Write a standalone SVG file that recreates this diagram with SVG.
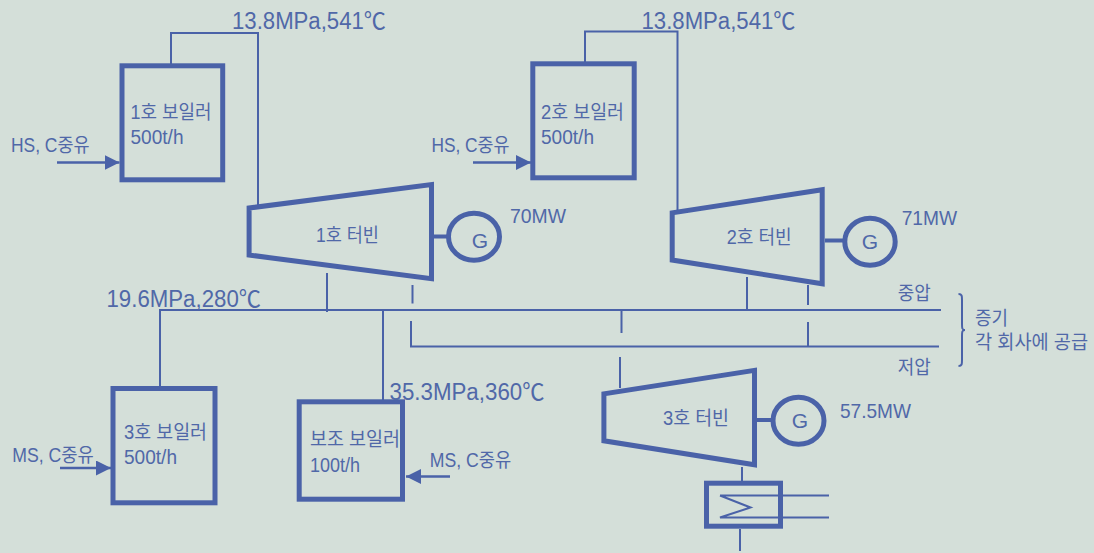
<svg xmlns="http://www.w3.org/2000/svg" width="1094" height="553" viewBox="0 0 1094 553">
<style>
text{font-family:"Liberation Sans","Noto Sans CJK KR",sans-serif;fill:#5068a8}
.p{font-size:23px}.l{font-size:19.500px}.m{font-size:21px}.g{font-size:21px;text-anchor:middle}
.k{fill:none;stroke:#4a62a8;stroke-width:5;stroke-miterlimit:10}
.c{fill:none;stroke:#4a62a8;stroke-width:2}
.a{fill:none;stroke:#4a62a8;stroke-width:2.4}
</style>
<defs><marker id="ah" markerUnits="userSpaceOnUse" markerWidth="15" markerHeight="15" refX="15" refY="7.5" orient="auto"><path d="M0 0L15 7.5L0 15Z" fill="#4a62a8"/></marker></defs>
<rect width="1094" height="553" fill="#d4dfd9"/>
<g id="connectors">
<path class="c" d="M171 64V33H258V206"/>
<path class="c" d="M585 62V31.500H677.500V214"/>
<path class="c" d="M160 386V310H941"/>
<path class="c" d="M383 310V400"/>
<path class="c" d="M410 346.500H939"/>
<path class="c" d="M327 273V312M412.500 285V303.500M411 321V347"/>
<path class="c" d="M621.500 310V333M620 357V388"/>
<path class="c" d="M747 277V310M808 285V305M808 322V346"/>
<path class="c" d="M742 467V481M740 529V551"/>
<path class="c" d="M720 495.500H829M720 495.500L750.500 507.500L720 517.500H829"/>
<path class="a" d="M57 162.500H119.500" marker-end="url(#ah)"/>
<path class="a" d="M473 162.500H531" marker-end="url(#ah)"/>
<path class="a" d="M60 468H111" marker-end="url(#ah)"/>
<path class="a" d="M450 476.500H406" marker-end="url(#ah)"/>
<path class="k" d="M434 236.500H448M825 240.500H844M757 420H773" style="stroke-width:4"/>
<path class="c" d="M958.500 294C962 294 962 296 962 300V324C962 328 962 330 965 330C962 330 962 332 962 336V360C962 364 962 366 958.500 366"/>
</g>
<g id="boiler1"><rect class="k" x="122" y="65.800" width="100.700" height="114"/><text class="l" lengthAdjust="spacingAndGlyphs" x="130.500" y="118.500" textLength="81">1호 보일러</text><text class="l" lengthAdjust="spacingAndGlyphs" x="130.500" y="144" textLength="53">500t/h</text></g>
<g id="boiler2"><rect class="k" x="532.800" y="63.800" width="101.400" height="114"/><text class="l" lengthAdjust="spacingAndGlyphs" x="541" y="118.500" textLength="83">2호 보일러</text><text class="l" lengthAdjust="spacingAndGlyphs" x="541" y="144" textLength="53">500t/h</text></g>
<g id="boiler3"><rect class="k" x="113" y="388.500" width="102" height="114.300"/><text class="l" lengthAdjust="spacingAndGlyphs" x="124" y="439" textLength="83">3호 보일러</text><text class="l" lengthAdjust="spacingAndGlyphs" x="124" y="464" textLength="53">500t/h</text></g>
<g id="boiler-aux"><rect class="k" x="299.200" y="401.800" width="103.300" height="97.400"/><text class="l" lengthAdjust="spacingAndGlyphs" x="310" y="446" textLength="90">보조 보일러</text><text class="l" lengthAdjust="spacingAndGlyphs" x="310" y="471.500" textLength="50">100t/h</text></g>
<g id="turbine1"><path class="k" d="M249.100 208V255L431.500 278.700V184.600Z"/><text class="l" lengthAdjust="spacingAndGlyphs" x="316" y="241.500" textLength="63">1호 터빈</text></g>
<g id="turbine2"><path class="k" d="M672.200 212.800V260L822.200 283.700V189.700Z"/><text class="l" lengthAdjust="spacingAndGlyphs" x="726.700" y="244" textLength="65">2호 터빈</text></g>
<g id="turbine3"><path class="k" d="M603.900 393.800V440.800L754.500 464.700V370.300Z"/><text class="l" lengthAdjust="spacingAndGlyphs" x="663" y="425" textLength="66">3호 터빈</text></g>
<g id="gen1"><ellipse class="k" cx="474" cy="236.700" rx="25.500" ry="23.500"/><text class="g" x="480" y="248">G</text></g>
<g id="gen2"><ellipse class="k" cx="870" cy="241.700" rx="25.200" ry="23.500"/><text class="g" x="870" y="248.500">G</text></g>
<g id="gen3"><ellipse class="k" cx="798.500" cy="420.700" rx="25.500" ry="23.500"/><text class="g" x="800" y="427.500">G</text></g>
<g id="condenser"><rect class="k" x="706.500" y="483.200" width="74" height="43"/></g>
<g id="labels">
<text class="p" lengthAdjust="spacingAndGlyphs" x="232" y="29" textLength="154">13.8MPa,541℃</text>
<text class="p" lengthAdjust="spacingAndGlyphs" x="641.500" y="29" textLength="154">13.8MPa,541℃</text>
<text class="p" lengthAdjust="spacingAndGlyphs" x="106.500" y="306.500" textLength="154.500">19.6MPa,280℃</text>
<text class="p" lengthAdjust="spacingAndGlyphs" x="389.500" y="399.500" textLength="155">35.3MPa,360℃</text>
<text class="m" lengthAdjust="spacingAndGlyphs" x="510" y="223" textLength="56">70MW</text>
<text class="m" lengthAdjust="spacingAndGlyphs" x="901.700" y="225" textLength="55.500">71MW</text>
<text class="m" lengthAdjust="spacingAndGlyphs" x="840" y="417.700" textLength="71">57.5MW</text>
<text class="l" lengthAdjust="spacingAndGlyphs" x="11" y="152" textLength="78.500">HS, C중유</text>
<text class="l" lengthAdjust="spacingAndGlyphs" x="431.400" y="152" textLength="78">HS, C중유</text>
<text class="l" lengthAdjust="spacingAndGlyphs" x="12.300" y="461.500" textLength="81.500">MS, C중유</text>
<text class="l" lengthAdjust="spacingAndGlyphs" x="429.700" y="467" textLength="81.500">MS, C중유</text>
<text class="l" lengthAdjust="spacingAndGlyphs" x="897.700" y="299.500" textLength="33">중압</text>
<text class="l" lengthAdjust="spacingAndGlyphs" x="897.700" y="374" textLength="33">저압</text>
<text class="l" lengthAdjust="spacingAndGlyphs" x="975" y="324.500" textLength="33">증기</text>
<text class="l" lengthAdjust="spacingAndGlyphs" x="975" y="349" textLength="113">각 회사에 공급</text>
</g>
</svg>
